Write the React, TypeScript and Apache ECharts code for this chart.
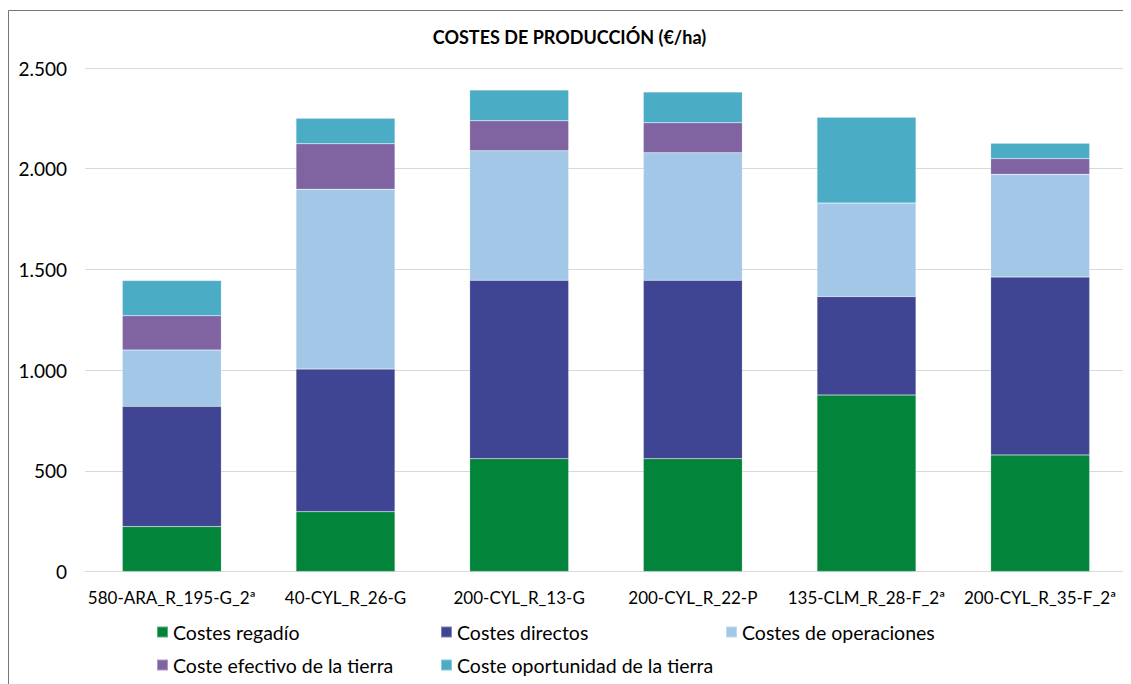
import React, { useEffect, useRef } from "react";
import * as echarts from "echarts";

const categories = [
  "580-ARA_R_195-G_2ª",
  "40-CYL_R_26-G",
  "200-CYL_R_13-G",
  "200-CYL_R_22-P",
  "135-CLM_R_28-F_2ª",
  "200-CYL_R_35-F_2ª",
];
const seriesNames = [
  "Costes regadío",
  "Costes directos",
  "Costes de operaciones",
  "Coste efectivo de la tierra",
  "Coste oportunidad de la tierra",
];
const costesRegadio = [223, 297, 560, 560, 876, 579];
const costesDirectos = [597, 708, 886, 886, 489, 883];
const costesOperaciones = [280, 893, 643, 633, 465, 510];
const costeEfectivo = [170, 226, 149, 149, 0, 78];
const costeOportunidad = [175, 126, 153, 153, 426, 76];
const colors = ["#02843A", "#3F4592", "#A2C7E7", "#8064A2", "#4BACC6"];
const yTicks = { min: 0, max: 2500, interval: 500 };

const FONT = "Lato, sans-serif";

export default function App() {
  const ref = useRef<HTMLDivElement>(null);
  useEffect(() => {
    if (!ref.current) return;
    const chart = echarts.init(ref.current, null, { renderer: "svg" });
    const data = [costesRegadio, costesDirectos, costesOperaciones, costeEfectivo, costeOportunidad];
    const legendPos = [
      { left: 148, top: 614 },
      { left: 432, top: 614 },
      { left: 717, top: 614 },
      { left: 148, top: 647 },
      { left: 432, top: 647 },
    ];
    chart.setOption({
      animation: false,
      textStyle: { fontFamily: FONT },
      title: {
        text: "COSTES DE PRODUCCIÓN (€/ha)",
        left: "center",
        top: 15,
        textStyle: { fontFamily: FONT, fontSize: 18, fontWeight: "bold", color: "#000" },
      },
      legend: seriesNames.map((n, i) => ({
        data: [n],
        left: legendPos[i].left,
        top: legendPos[i].top,
        icon: "rect",
        itemWidth: 11,
        itemHeight: 11,
        itemGap: 5,
        textStyle: { fontFamily: FONT, fontSize: 19.5, color: "#000", padding: [0, 0, 0, 0] },
        padding: 0,
      })),
      graphic: [
        { type: "line", shape: { x1: 0.5, y1: 2.5, x2: 0.5, y2: 680 }, style: { stroke: "#767676", lineWidth: 1 } },
        { type: "line", shape: { x1: 0.5, y1: 2.5, x2: 1130, y2: 2.5 }, style: { stroke: "#767676", lineWidth: 1 } },
      ],
      grid: { left: 77, right: 4, top: 60, bottom: 112.5, containLabel: false },
      xAxis: {
        type: "category",
        data: categories,
        axisLine: { lineStyle: { color: "#D9D9D9" } },
        axisTick: { show: false },
        axisLabel: { fontFamily: FONT, fontSize: 17, color: "#000", margin: 17, interval: 0 },
      },
      yAxis: {
        type: "value",
        min: yTicks.min,
        max: yTicks.max,
        interval: yTicks.interval,
        axisLine: { show: false },
        axisTick: { show: false },
        splitLine: { lineStyle: { color: "#D9D9D9" } },
        axisLabel: {
          fontFamily: FONT,
          fontSize: 19,
          color: "#000",
          margin: 18,
          formatter: (v: number) => v.toString().replace(/\B(?=(\d{3})+(?!\d))/g, "."),
        },
      },
      series: seriesNames.map((n, i) => ({
        name: n,
        type: "bar",
        stack: "total",
        data: data[i],
        barWidth: "57%",
        itemStyle: { color: colors[i], borderColor: "rgba(255,255,255,0.35)", borderWidth: 0.5 },
      })),
    });
    return () => chart.dispose();
  }, []);
  return <div ref={ref} style={{ width: 1123, height: 676 }} />;
}
